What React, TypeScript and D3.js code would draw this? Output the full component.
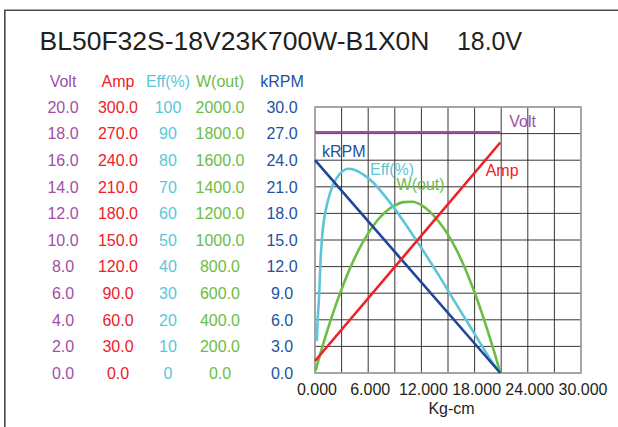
import React, {useEffect, useRef} from "react";
import * as d3 from 'd3';

const WIDTH = 618;
const HEIGHT = 427;
const FONT = "Arial, 'Liberation Sans', Helvetica, sans-serif";

// plot box
const PLOT_LEFT = 315;
const PLOT_RIGHT = 581;
const PLOT_TOP = 107;
const PLOT_BOTTOM = 373;

const TITLE = "BL50F32S-18V23K700W-B1X0N";
const TITLE_VOLT = "18.0V";
const X_LABEL = "Kg-cm";
const X_TICKS = [0, 6, 12, 18, 24, 30];
const TICK_STEPS = d3.range(0, 11); // 10 rows on every left axis

// torque (kg-cm) endpoints for the straight lines
const lineTorque = [0, 20.9];
const voltValues = [18.1, 18.1];
const ampValues = [13.5, 260];
const rpmValues = [24.0, 0];

// efficiency curve
const effTorque = [0.2, 0.3, 0.45, 0.62, 0.85, 1.2, 1.6, 2.0, 2.5, 3.0, 3.7, 4.5, 5.5, 6.5, 8, 10, 12, 14, 16, 17.3, 18.5, 19.7, 20.9];
const effValues = [12, 20, 28, 42, 53, 61, 66.5, 70.5, 73.5, 75.5, 76.8, 76.3, 74.5, 71.8, 66, 57, 47, 36.5, 25.5, 18.5, 12, 5.5, 0];

// output power curve
const powerTorque = [0.07, 1, 2, 3, 4, 5, 6, 7, 8, 9, 10, 11, 12, 13, 14, 15, 16, 17, 18, 19, 20, 20.9];
const powerValues = [17, 235, 445, 630, 795, 935, 1050, 1145, 1215, 1260, 1285, 1288, 1262, 1210, 1135, 1040, 920, 775, 605, 415, 205, 0];

const C_VOLT = "#a04fa6";
const C_AMP = "#ee2028";
const C_EFF = "#5cc6d8";
const C_W = "#6cbd45";
const C_RPM = "#2352a2";
const C_RPM_LINE = "#1d479a";
const C_TEXT = "#231f20";

interface Column {
    name: string;
    color: string;
    max: number;
    fmt: (n: number) => string;
    cx: number;
}

const columns: Column[] = [
    {name: "Volt", color: C_VOLT, max: 20, fmt: d3.format(".1f"), cx: 63},
    {name: "Amp", color: C_AMP, max: 300, fmt: d3.format(".1f"), cx: 118},
    {name: "Eff(%)", color: C_EFF, max: 100, fmt: d3.format("d"), cx: 168},
    {name: "W(out)", color: C_W, max: 2000, fmt: d3.format(".1f"), cx: 220},
    {name: "kRPM", color: C_RPM, max: 30, fmt: d3.format(".1f"), cx: 282},
];

export default function App() {
    const ref = useRef<SVGSVGElement>(null);

    useEffect(() => {
        const svg = d3.select(ref.current);
        svg.selectAll('*').remove();

        const x = d3.scaleLinear().domain([0, 30]).range([PLOT_LEFT, PLOT_RIGHT]);
        const yScale = (max: number) => d3.scaleLinear().domain([0, max]).range([PLOT_BOTTOM, PLOT_TOP]);
        const yVolt = yScale(20);
        const yAmp = yScale(300);
        const yEff = yScale(100);
        const yW = yScale(2000);
        const yRpm = yScale(30);

        // outer frame (cut by the picture edge)
        svg.append('path')
            .attr('d', `M4.8,${HEIGHT + 5} L4.8,10.2 L${WIDTH + 5},10.2`)
            .attr('fill', 'none')
            .attr('stroke', '#4a4a4a')
            .attr('stroke-width', 1.6);

        svg.append('text')
            .attr('x', 39.5).attr('y', 50)
            .attr('font-size', 26.5)
            .attr('fill', C_TEXT)
            .attr('textLength', 390)
            .attr('lengthAdjust', 'spacingAndGlyphs')
            .text(TITLE);
        svg.append('text')
            .attr('x', 457).attr('y', 50)
            .attr('font-size', 26.5)
            .attr('fill', C_TEXT)
            .attr('textLength', 65)
            .attr('lengthAdjust', 'spacingAndGlyphs')
            .text(TITLE_VOLT);

        // grid
        const grid = svg.append('g');
        d3.range(0, 31, 3).forEach(v => {
            grid.append('line')
                .attr('x1', x(v)).attr('x2', x(v))
                .attr('y1', PLOT_TOP).attr('y2', PLOT_BOTTOM)
                .attr('stroke', C_TEXT).attr('stroke-width', 0.9);
        });
        TICK_STEPS.forEach(i => {
            const v = i * 3;
            grid.append('line')
                .attr('x1', PLOT_LEFT).attr('x2', PLOT_RIGHT)
                .attr('y1', yRpm(v)).attr('y2', yRpm(v))
                .attr('stroke', C_TEXT).attr('stroke-width', 0.9);
        });
        grid.append('rect')
            .attr('x', PLOT_LEFT).attr('y', PLOT_TOP)
            .attr('width', PLOT_RIGHT - PLOT_LEFT).attr('height', PLOT_BOTTOM - PLOT_TOP)
            .attr('fill', 'none')
            .attr('stroke', '#a8a8a8')
            .attr('stroke-width', 1.6);

        // left value columns
        columns.forEach(col => {
            const s = yScale(col.max);
            const g = svg.append('g')
                .attr('fill', col.color)
                .attr('text-anchor', 'middle')
                .attr('font-size', 16);
            g.append('text')
                .attr('x', col.cx).attr('y', 86.5)
                .text(col.name);
            g.selectAll('text.tick')
                .data(TICK_STEPS.map(i => i * col.max / 10))
                .enter()
                .append('text')
                .attr('class', 'tick')
                .attr('x', col.cx)
                .attr('y', d => s(d))
                .attr('dy', '0.36em')
                .text(d => col.fmt(d));
        });

        // x axis labels
        const xg = svg.append('g')
            .attr('fill', C_TEXT)
            .attr('text-anchor', 'middle')
            .attr('font-size', 16);
        xg.selectAll('text')
            .data(X_TICKS)
            .enter()
            .append('text')
            .attr('x', d => x(d) + 2)
            .attr('y', 389)
            .attr('dy', '0.36em')
            .text(d => d3.format(".3f")(d));
        svg.append('text')
            .attr('x', x(15.4)).attr('y', 408)
            .attr('dy', '0.36em')
            .attr('text-anchor', 'middle')
            .attr('font-size', 16)
            .attr('fill', C_TEXT)
            .text(X_LABEL);

        // series
        const drawLine = (xs: number[], ys: number[], sy: d3.ScaleLinear<number, number>, color: string, curve = d3.curveLinear) => {
            const line = d3.line<number>()
                .x((_, i) => x(xs[i]))
                .y(d => sy(d))
                .curve(curve);
            svg.append('path')
                .attr('d', line(ys))
                .attr('fill', 'none')
                .attr('stroke', color)
                .attr('stroke-width', 2.6)
                .attr('stroke-linejoin', 'round');
        };
        drawLine(powerTorque, powerValues, yW, C_W, d3.curveMonotoneX);
        drawLine(effTorque, effValues, yEff, C_EFF, d3.curveMonotoneX);
        drawLine(lineTorque, voltValues, yVolt, C_VOLT);
        drawLine(lineTorque, rpmValues, yRpm, C_RPM_LINE);
        drawLine(lineTorque, ampValues, yAmp, C_AMP);

        // series labels inside the plot
        const label = (t: string, lx: number, ly: number, color: string) => {
            svg.append('text')
                .attr('x', lx).attr('y', ly)
                .attr('font-size', 16)
                .attr('fill', color)
                .text(t);
        };
        label("Volt", x(20.9) + 9, yVolt(18.1) - 5, C_VOLT);
        label("kRPM", x(0) + 7, yRpm(24) - 3, C_RPM);
        label("Eff(%)", x(6.2), yEff(74.5), C_EFF);
        label("W(out)", x(9.2), yW(1375), C_W);
        label("Amp", x(19.25), yAmp(222), C_AMP);
    }, []);

    return (
        <svg ref={ref} width={WIDTH} height={HEIGHT}
             style={{position: 'absolute', left: 0, top: 0, background: '#fff', fontFamily: FONT}}/>
    );
}
